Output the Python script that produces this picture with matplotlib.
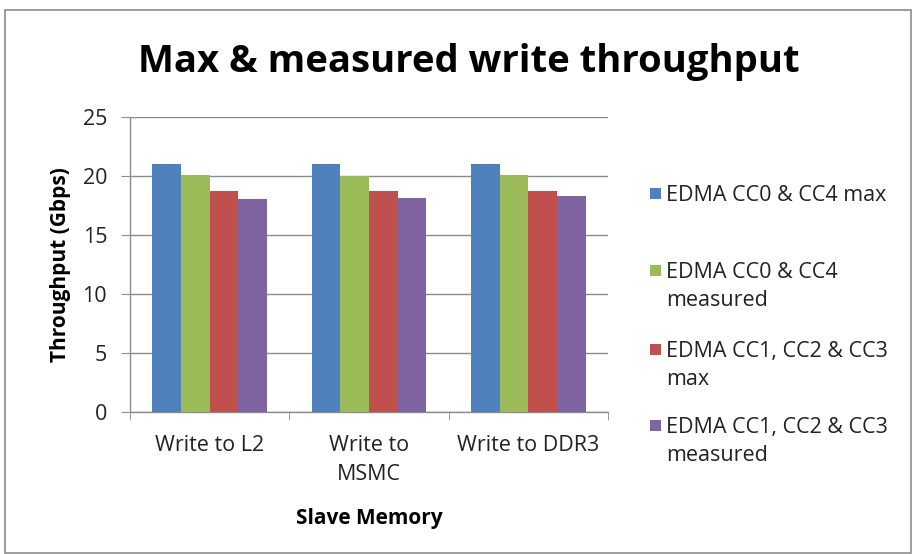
import matplotlib
matplotlib.use("Agg")
import matplotlib.pyplot as plt
from matplotlib.patches import Rectangle
import numpy as np

plt.rcParams['font.family'] = ['Open Sans', 'DejaVu Sans']

categories = ["Write to L2", "Write to\nMSMC", "Write to DDR3"]
series_names = [
    "EDMA CC0 & CC4 max",
    "EDMA CC0 & CC4\nmeasured",
    "EDMA CC1, CC2 & CC3\nmax",
    "EDMA CC1, CC2 & CC3\nmeasured",
]
cc04_max = [21.0, 21.0, 21.0]
cc04_measured = [20.1, 20.0, 20.1]
cc123_max = [18.7, 18.7, 18.7]
cc123_measured = [18.0, 18.1, 18.3]
series_values = [cc04_max, cc04_measured, cc123_max, cc123_measured]
colors = ["#4F81BD", "#9BBB59", "#C0504D", "#8064A2"]
yticks = [0, 5, 10, 15, 20, 25]

W, H = 914, 554
fig = plt.figure(figsize=(W / 100, H / 100), dpi=100)
fig.patch.set_facecolor("white")

# chart border
fig.patches.append(Rectangle((5 / W, 1 - 553 / H), 906 / W, 543 / H,
                             transform=fig.transFigure, fill=False,
                             edgecolor="#8c8c8c", linewidth=1.2))

ax = fig.add_axes([130 / W, 1 - 411.7 / H, 478 / W, 295 / H])

x = np.arange(len(categories))
bw = 0.18
for i, (vals, c) in enumerate(zip(series_values, colors)):
    ax.bar(x + (i - 1.5) * bw, vals, width=bw, color=c, edgecolor="none", zorder=3)

ax.set_xlim(-0.5, len(categories) - 0.5)
ax.set_ylim(0, 25)
ax.set_yticks(yticks)
ax.set_yticklabels([str(v) for v in yticks], fontsize=15.5, color="#222222")
ax.yaxis.grid(True, color="#8c8c8c", linewidth=1.0, zorder=0)
ax.set_axisbelow(True)

ax.set_xticks(x)
ax.set_xticklabels(categories, fontsize=15.5, linespacing=1.5, va="top",
                   color="#222222")
ax.tick_params(axis="x", length=0, pad=17)
ax.set_xticks(np.arange(len(categories) + 1) - 0.5, minor=True)
ax.tick_params(axis="x", which="minor", length=6, color="#8c8c8c", direction="out")
ax.tick_params(axis="y", length=6.5, color="#8c8c8c", direction="out", pad=10)

for s in ["top", "right"]:
    ax.spines[s].set_visible(False)
for s in ["left", "bottom"]:
    ax.spines[s].set_color("#8c8c8c")
    ax.spines[s].set_linewidth(1.0)

ax.set_ylabel("Throughput (Gbps)", fontsize=15, fontweight="bold", labelpad=8)
ax.set_xlabel("Slave Memory", fontsize=15, fontweight="bold", labelpad=16)

fig.text(469 / W, 1 - 62 / H, "Max & measured write throughput",
         ha="center", va="center", fontsize=27.5, fontweight="bold")

# legend entries
leg_y = [193, 270, 349, 425]
for name, c, yy in zip(series_names, colors, leg_y):
    fig.patches.append(Rectangle((650 / W, 1 - (yy + 6) / H), 11 / W, 11 / H,
                                 transform=fig.transFigure, facecolor=c,
                                 edgecolor="none"))
    fig.text(666 / W, 1 - (yy - 8) / H, name, ha="left", va="top",
             fontsize=15.5, linespacing=1.45, color="#222222")

fig.savefig("out.png", dpi=100)
